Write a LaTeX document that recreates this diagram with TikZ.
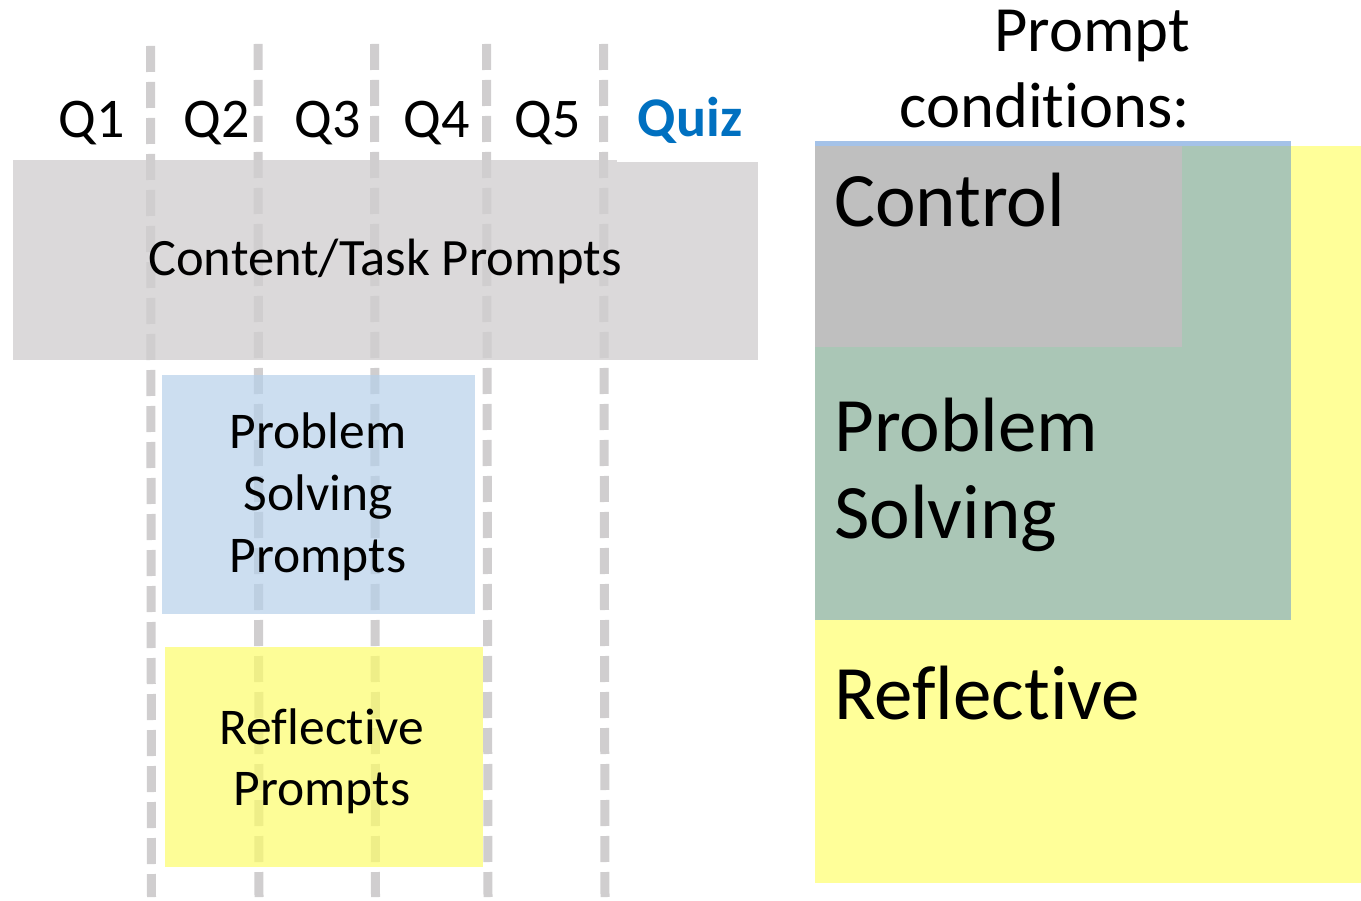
\documentclass[tikz,border=0pt]{standalone}
\usepackage{fontspec}
\setmainfont{Carlito}[Ligatures=NoCommon]
\definecolor{bandgray}{RGB}{219,217,218}
\definecolor{dashgray}{RGB}{208,206,207}
\definecolor{psblue}{RGB}{182,208,234}
\definecolor{refyellow}{RGB}{252,252,107}
\definecolor{quizblue}{RGB}{0,112,192}
\definecolor{condyellow}{RGB}{255,255,153}
\definecolor{condgreen}{RGB}{170,198,182}
\definecolor{condgray}{RGB}{191,191,191}
\definecolor{condline}{RGB}{164,194,232}
\tikzset{
  qlabel/.style={anchor=base, inner sep=0pt, font=\fontsize{56}{67}\selectfont},
  midtext/.style={anchor=base, inner sep=0pt, font=\fontsize{51.5}{62}\selectfont},
  bigtext/.style={anchor=base west, inner sep=0pt, font=\fontsize{77}{92}\selectfont},
  condtext/.style={anchor=base east, inner sep=0pt, font=\fontsize{64.5}{77}\selectfont},
  dashline/.style={draw=dashgray, line width=9pt, dash pattern=on 26pt off 10pt},
}
\begin{document}
\begin{tikzpicture}[x=1pt,y=-1pt]
\useasboundingbox (0,0) rectangle (1361,901);
% left: content band
\fill[bandgray] (13,160) rectangle (758,360);
\fill[white] (617,155) rectangle (762,162);
% dashed separators
\draw[dashline] (150.5,46) -- (151.5,897);
\draw[dashline] (258,44) -- (259,897);
\draw[dashline] (374.5,44) -- (375.5,897);
\draw[dashline] (486.5,44) -- (488,897);
\draw[dashline] (603.5,44) -- (605,897);
% prompt boxes (translucent over the separators)
\fill[psblue, fill opacity=0.7] (162,375) rectangle (475,614);
\fill[refyellow, fill opacity=0.7] (165,647) rectangle (483,867);
% labels
\node[qlabel] (q1) at (92,138) {Q1};
\node[qlabel] (q2) at (217,138) {Q2};
\node[qlabel] (q3) at (328,138) {Q3};
\node[qlabel] (q4) at (437,138) {Q4};
\node[qlabel] (q5) at (548,138) {Q5};
\node[qlabel, text=quizblue, font=\fontsize{56}{67}\selectfont\bfseries] (quiz) at (690,137) {Quiz};
\node[midtext, font=\fontsize{52.5}{62}\selectfont] (content) at (385,276) {Content/Task Prompts};
\node[midtext] (ps1) at (318,448) {Problem};
\node[midtext] (ps2) at (318,510) {Solving};
\node[midtext] (ps3) at (318,572) {Prompts};
\node[midtext] (rp1) at (322,744) {Reflective};
\node[midtext] (rp2) at (322,805) {Prompts};
% right: conditions
\node[condtext] (cond1) at (1190,52) {Prompt};
\node[condtext] (cond2) at (1190,128) {conditions:};
\fill[condyellow] (815,146) rectangle (1361,883);
\fill[condgreen] (815,146) rectangle (1291,620);
\fill[condline] (815,141) rectangle (1291,146);
\fill[condgray] (815,146) rectangle (1182,347);
\node[bigtext] (control) at (834,227) {Control};
\node[bigtext] (prob) at (834,451) {Problem};
\node[bigtext] (solv) at (834,538) {Solving};
\node[bigtext] (refl) at (834,719) {Reflective};
\end{tikzpicture}
\end{document}
